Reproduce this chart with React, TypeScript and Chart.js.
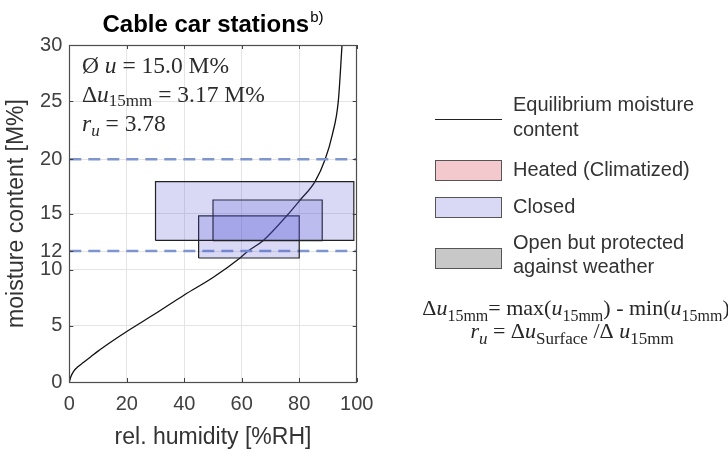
import React, { useEffect, useRef } from 'react';
import { Chart, registerables } from 'chart.js';

Chart.register(...registerables);

// ---- data ----
const RH = [0, 0.5, 1.5, 3, 5, 7.5, 10, 15, 20, 30, 40, 50, 59.4, 62.2, 67.5, 75.6, 80.3, 85.5, 89, 91.5, 93.6, 94.9];
const EMC = [0, 0.45, 0.95, 1.35, 1.75, 2.25, 2.75, 3.65, 4.5, 6.1, 7.75, 9.3, 11.04, 11.66, 12.6, 14.78, 16.2, 17.84, 19.8, 22, 25, 30];

const RECT_X0 = [30, 50, 45];
const RECT_X1 = [99, 88, 80];
const RECT_Y0 = [12.6, 12.58, 11.04];
const RECT_Y1 = [17.84, 16.2, 14.78];

const LIMIT_LOW = 11.66;
const LIMIT_HIGH = 19.83;

const X_TICKS = [0, 20, 40, 60, 80, 100];
const Y_TICKS = [0, 5, 10, 11.66, 15, 19.83, 25, 30];
const Y_TICK_LABELS = ['0', '5', '10', '12', '15', '20', '25', '30'];

const TITLE = 'Cable car stations';
const TITLE_SUP = 'b)';
const X_TITLE = 'rel. humidity [%RH]';
const Y_TITLE = 'moisture content [M%]';

const MEAN_U = '15.0';
const DELTA_U = '3.17';
const R_U = '3.78';

const LEGEND_LINE = ['Equilibrium moisture', 'content'];
const LEGEND_BOXES = [['Heated (Climatized)'], ['Closed'], ['Open but protected', 'against weather']];
const LEGEND_COLORS = ['#f4c9cd', '#d9d9f5', '#c8c8c8'];

const SANS = "'Liberation Sans', Arial, sans-serif";
const SERIF = "'Liberation Serif', 'Times New Roman', serif";

type Seg = { t: string; size?: number; italic?: boolean; dy?: number };

function segFont(s: Seg, base: number) {
  return `${s.italic ? 'italic ' : ''}${s.size ?? base}px ${SERIF}`;
}

function drawRich(ctx: CanvasRenderingContext2D, x: number, y: number, segs: Seg[], base: number, align: 'left' | 'center' = 'left') {
  let total = 0;
  for (const s of segs) {
    ctx.font = segFont(s, base);
    total += ctx.measureText(s.t).width;
  }
  let cx = align === 'center' ? x - total / 2 : x;
  ctx.textAlign = 'left';
  ctx.textBaseline = 'alphabetic';
  for (const s of segs) {
    ctx.font = segFont(s, base);
    ctx.fillText(s.t, cx, y + (s.dy ?? 0));
    cx += ctx.measureText(s.t).width;
  }
}

const extrasPlugin = {
  id: 'extras',
  afterDraw(chart: any) {
    const ctx: CanvasRenderingContext2D = chart.ctx;
    const { left, right, top, bottom } = chart.chartArea;
    const xs = chart.scales.x;
    const ys = chart.scales.y;
    ctx.save();

    // inward tick marks
    ctx.strokeStyle = '#404040';
    ctx.lineWidth = 1;
    ctx.beginPath();
    for (const v of X_TICKS) {
      const px = Math.round(xs.getPixelForValue(v)) + 0.5;
      ctx.moveTo(px, bottom);
      ctx.lineTo(px, bottom - 4);
      ctx.moveTo(px, top);
      ctx.lineTo(px, top + 4);
    }
    for (const v of Y_TICKS) {
      const py = Math.round(ys.getPixelForValue(v)) + 0.5;
      ctx.moveTo(left, py);
      ctx.lineTo(left + 4, py);
      ctx.moveTo(right, py);
      ctx.lineTo(right - 4, py);
    }
    ctx.stroke();

    // frame
    ctx.strokeStyle = '#4d4d4d';
    ctx.lineWidth = 1.2;
    ctx.strokeRect(Math.round(left) + 0.5, Math.round(top) + 0.5, Math.round(right - left), Math.round(bottom - top));

    // title
    const cxTitle = (left + right) / 2;
    ctx.fillStyle = '#000';
    ctx.font = `bold 24px ${SANS}`;
    const tw = ctx.measureText(TITLE).width;
    ctx.font = `15px ${SANS}`;
    const sw = ctx.measureText(TITLE_SUP).width;
    const tx = cxTitle - (tw + sw + 1) / 2;
    ctx.textAlign = 'left';
    ctx.textBaseline = 'alphabetic';
    ctx.font = `bold 24px ${SANS}`;
    ctx.fillText(TITLE, tx, 32);
    ctx.font = `15px ${SANS}`;
    ctx.fillText(TITLE_SUP, tx + tw + 1, 22);

    // annotation in plot
    ctx.fillStyle = '#2b2b2b';
    drawRich(ctx, 82, 73, [{ t: 'Ø ' }, { t: 'u', italic: true }, { t: ` = ${MEAN_U} M%` }], 23.5);
    drawRich(ctx, 82, 102, [{ t: 'Δ' }, { t: 'u', italic: true }, { t: '15mm', size: 17, dy: 4 }, { t: ` = ${DELTA_U} M%` }], 23.5);
    drawRich(ctx, 82, 131, [{ t: 'r', italic: true }, { t: 'u', italic: true, size: 17, dy: 5 }, { t: ` = ${R_U}` }], 23.5);

    // legend
    ctx.strokeStyle = '#222';
    ctx.lineWidth = 1;
    ctx.beginPath();
    ctx.moveTo(435, 119.5);
    ctx.lineTo(502, 119.5);
    ctx.stroke();
    ctx.fillStyle = '#333';
    ctx.font = `20px ${SANS}`;
    ctx.textAlign = 'left';
    ctx.textBaseline = 'middle';
    ctx.fillText(LEGEND_LINE[0], 513, 105);
    ctx.fillText(LEGEND_LINE[1], 513, 130);

    const boxY = [160, 197, 248];
    const textY = [[170], [207], [243, 267]];
    for (let i = 0; i < LEGEND_BOXES.length; i++) {
      ctx.fillStyle = LEGEND_COLORS[i];
      ctx.fillRect(435, boxY[i], 66, 20);
      ctx.strokeStyle = '#555';
      ctx.lineWidth = 1;
      ctx.strokeRect(435.5, boxY[i] + 0.5, 66, 20);
      ctx.fillStyle = '#333';
      ctx.font = `20px ${SANS}`;
      ctx.textBaseline = 'middle';
      LEGEND_BOXES[i].forEach((line, j) => ctx.fillText(line, 513, textY[i][j]));
    }

    // formulas
    ctx.fillStyle = '#262626';
    drawRich(ctx, 576, 315, [
      { t: 'Δ' }, { t: 'u', italic: true }, { t: '15mm', size: 16, dy: 6 },
      { t: '= max(' }, { t: 'u', italic: true }, { t: '15mm', size: 16, dy: 6 },
      { t: ') - min(' }, { t: 'u', italic: true }, { t: '15mm', size: 16, dy: 6 }, { t: ')' },
    ], 22, 'center');
    drawRich(ctx, 572, 338, [
      { t: 'r', italic: true }, { t: 'u', italic: true, size: 17, dy: 6 },
      { t: ' = Δ' }, { t: 'u', italic: true }, { t: 'Surface', size: 17, dy: 6 },
      { t: ' /Δ ' }, { t: 'u', italic: true }, { t: '15mm', size: 17, dy: 6 },
    ], 22, 'center');

    ctx.restore();
  },
};

export default function App() {
  const ref = useRef<HTMLCanvasElement | null>(null);

  useEffect(() => {
    if (!ref.current) return;
    const rectSets = RECT_X0.map((x0, i) => ({
      label: `rect${i}`,
      data: [
        { x: x0, y: RECT_Y0[i] },
        { x: RECT_X1[i], y: RECT_Y0[i] },
        { x: RECT_X1[i], y: RECT_Y1[i] },
        { x: x0, y: RECT_Y1[i] },
        { x: x0, y: RECT_Y0[i] },
      ],
      borderColor: '#222',
      borderWidth: 1.2,
      backgroundColor: 'rgba(80, 80, 215, 0.22)',
      fill: 'shape',
      pointRadius: 0,
      tension: 0,
      order: 0,
    }));
    const chart = new Chart(ref.current, {
      type: 'line',
      data: {
        datasets: [
          ...rectSets,
          {
            label: 'low',
            data: [{ x: 0, y: LIMIT_LOW }, { x: 100, y: LIMIT_LOW }],
            borderColor: '#7f95d0',
            borderWidth: 2.3,
            borderDash: [12, 7],
            pointRadius: 0,
            fill: false,
            order: 1,
          },
          {
            label: 'high',
            data: [{ x: 0, y: LIMIT_HIGH }, { x: 100, y: LIMIT_HIGH }],
            borderColor: '#7f95d0',
            borderWidth: 2.3,
            borderDash: [12, 7],
            pointRadius: 0,
            fill: false,
            order: 1,
          },
          {
            label: 'emc',
            data: RH.map((x, i) => ({ x, y: EMC[i] })),
            borderColor: '#111',
            borderWidth: 1.3,
            pointRadius: 0,
            fill: false,
            cubicInterpolationMode: 'monotone',
            order: 2,
          },
        ],
      } as any,
      options: {
        responsive: false,
        animation: false,
        devicePixelRatio: 1,
        layout: { padding: { left: 0, top: 45, right: 371.3, bottom: 0 } },
        plugins: { legend: { display: false }, tooltip: { enabled: false }, title: { display: false } },
        scales: {
          x: {
            type: 'linear',
            min: 0,
            max: 100,
            afterBuildTicks: (s: any) => { s.ticks = X_TICKS.map((v) => ({ value: v })); },
            afterFit: (s: any) => { s.height = 69; },
            grid: { color: '#e4e4e4', drawTicks: false },
            border: { display: false },
            ticks: { color: '#404040', font: { family: SANS, size: 20 }, padding: 10, maxRotation: 0 },
            title: { display: true, text: X_TITLE, color: '#333', font: { family: SANS, size: 23 }, padding: { top: 0, bottom: 0 } },
          },
          y: {
            type: 'linear',
            min: 0,
            max: 30,
            afterBuildTicks: (s: any) => { s.ticks = Y_TICKS.map((v) => ({ value: v })); },
            afterFit: (s: any) => { s.width = 69.3; },
            grid: { color: '#e4e4e4', drawTicks: false },
            border: { display: false },
            ticks: {
              color: '#404040',
              font: { family: SANS, size: 20 },
              padding: 7,
              callback: (_v: any, i: number) => Y_TICK_LABELS[i],
            },
            title: { display: true, text: Y_TITLE, color: '#333', font: { family: SANS, size: 23 }, padding: { top: 3, bottom: 0 } },
          },
        },
      } as any,
      plugins: [extrasPlugin],
    });
    return () => chart.destroy();
  }, []);

  return (
    <div style={{ position: 'absolute', left: 0, top: 0, width: 728, height: 451, background: '#fff' }}>
      <canvas ref={ref} width={728} height={451} style={{ display: 'block' }} />
    </div>
  );
}
